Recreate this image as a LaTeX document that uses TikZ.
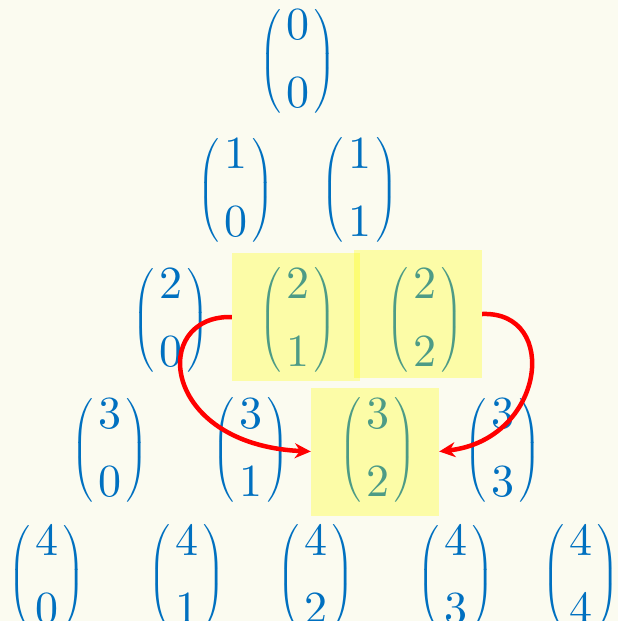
\documentclass[tikz,border=0pt]{standalone}
\usepackage{amsmath}
\usepackage{fontspec}
\usepackage{xcolor}
\usepackage{tikz}
\usetikzlibrary{arrows.meta}
\newfontfamily\digitface{lmroman10-regular.otf}
\definecolor{paper}{HTML}{FBFBF0}
\definecolor{ink}{HTML}{0070C0}
\definecolor{marker}{HTML}{FFFF00}
\definecolor{rust}{HTML}{FF0000}
\newcommand{\bn}[2]{{\fontsize{40}{48}\selectfont\delimitershortfall=20pt
  $\left(\kern5pt\raise3pt\hbox{$\vcenter{\baselineskip=68pt\lineskiplimit=0pt
  \hbox{\fontsize{46}{50}\digitface#1}\hbox{\fontsize{46}{50}\digitface#2}}$}\kern5pt\right)$}}
\tikzset{
  binom/.style={inner sep=0pt,text=ink},
  hilite/.style={fill=marker,fill opacity=0.3,minimum width=128pt,minimum height=128pt,inner sep=0pt},
  recur/.style={rust,line width=4.5pt,-{Stealth[length=16pt,width=15pt]}}
}

\begin{document}
\begin{tikzpicture}[x=1pt,y=-1pt]
  \fill[paper] (0,0) rectangle (618,621);
  \useasboundingbox (0,0) rectangle (618,621);
  \foreach \n/\k/\x/\y in {0/0/298/61, 1/0/236/190, 1/1/360/190, 2/0/171/320, 2/1/298/320, 2/2/425/320,
     3/0/110/450, 3/1/251/450, 3/2/378/450, 3/3/503/450, 4/0/47/577, 4/1/187/577, 4/2/316/577, 4/3/456/577, 4/4/581/577}
     {\node[binom] (b\n\k) at (\x,\y) {\bn{\n}{\k}};}
  \node[hilite] (h21) at (296,317) {};
  \node[hilite] (h22) at (418,314) {};
  \node[hilite] (h32) at (375,451.5) {};
  \draw[recur] (h21.west) .. controls +(-82,-2) and +(-151,-7) .. (h32.west);
  \draw[recur] (h22.east) .. controls +(78,-3) and +(106,-12) .. (h32.east);
\end{tikzpicture}
\end{document}
